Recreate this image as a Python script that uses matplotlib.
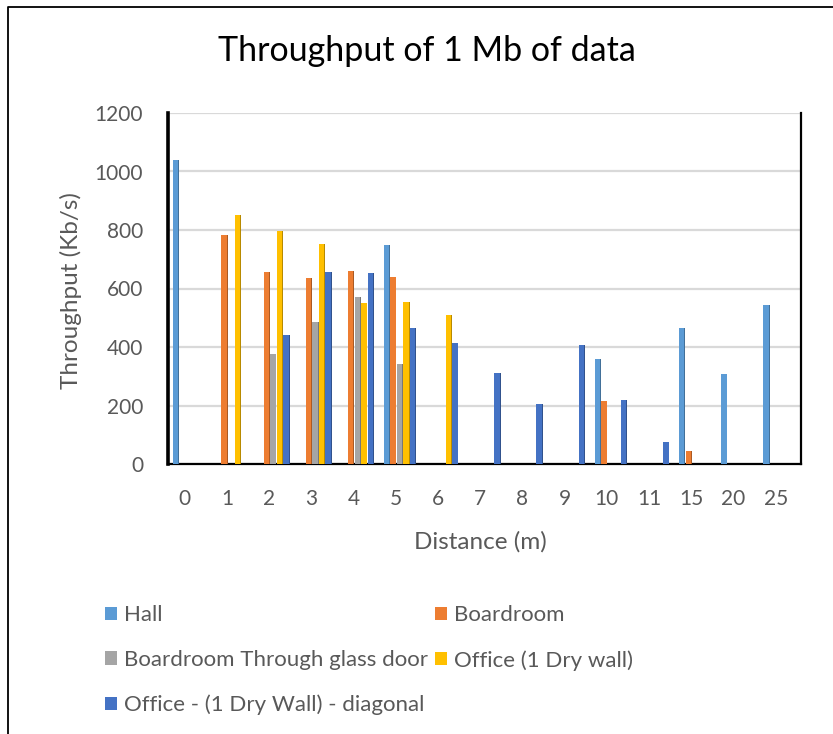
import matplotlib.pyplot as plt
from matplotlib.lines import Line2D
from matplotlib.patches import Patch
import matplotlib.colors as mcolors
import numpy as np

plt.rcParams['font.family'] = ['Lato', 'DejaVu Sans']

# data (0 = no bar)
distances = ['0', '1', '2', '3', '4', '5', '6', '7', '8', '9', '10', '11', '15', '20', '25']
hall = [1040, 0, 0, 0, 0, 749, 0, 0, 0, 0, 359, 0, 464, 308, 542]
boardroom = [0, 783, 655, 637, 660, 640, 0, 0, 0, 0, 214, 0, 43, 0, 0]
glass_door = [0, 0, 376, 484, 570, 342, 0, 0, 0, 0, 0, 0, 0, 0, 0]
office = [0, 851, 797, 751, 549, 554, 509, 0, 0, 0, 0, 0, 0, 0, 0]
office_diag = [0, 0, 440, 658, 654, 466, 412, 312, 206, 406, 220, 75, 0, 0, 0]

series_names = ['Hall', 'Boardroom', 'Boardroom Through glass door',
                'Office (1 Dry wall)', 'Office - (1 Dry Wall) - diagonal']
series_vals = [hall, boardroom, glass_door, office, office_diag]
colors = ['#5B9BD5', '#ED7D31', '#A5A5A5', '#FFC000', '#4472C4']

grey = '#595959'

fig = plt.figure(figsize=(8.33, 7.34), dpi=100)
ax = fig.add_axes([168 / 833, 1 - 464 / 734, 633 / 833, 351 / 734])

x = np.arange(len(distances))
step = 0.156
face_w = 0.13
side_w = 0.04
for j, (vals, c) in enumerate(zip(series_vals, colors)):
    v = np.array(vals, dtype=float)
    pos = x + (j - 2) * step
    dark = tuple(np.array(mcolors.to_rgb(c)) * 0.72)
    ax.bar(pos + face_w / 2 - side_w / 2 + 0.005, v, width=side_w, color=dark,
           zorder=3 + j * 0.1, linewidth=0)
    ax.bar(pos - side_w / 2 + 0.005, v, width=face_w, color=c,
           zorder=3.05 + j * 0.1, linewidth=0)

ax.set_xlim(-0.5, len(distances) - 0.5)
ax.set_ylim(0, 1200)
ax.set_yticks(np.arange(0, 1201, 200))
ax.set_xticks(x - 0.1)
ax.set_xticklabels(distances)
ax.tick_params(axis='both', length=0, labelsize=15, labelcolor=grey)
ax.tick_params(axis='y', pad=18)
ax.tick_params(axis='x', pad=18)
ax.yaxis.grid(True, color='#D9D9D9', linewidth=1.6, zorder=0)
ax.set_axisbelow(True)

ax.spines['top'].set_visible(False)
ax.spines['left'].set_linewidth(2.6)
ax.spines['bottom'].set_linewidth(1.6)
ax.spines['right'].set_linewidth(1.6)
for s in ['left', 'bottom', 'right']:
    ax.spines[s].set_color('black')

ax.set_xlabel('Distance (m)', fontsize=17.5, color=grey)
ax.set_ylabel('Throughput (Kb/s)', fontsize=17.5, color=grey)
ax.xaxis.set_label_coords(0.493, -0.19)
ax.yaxis.set_label_coords(-0.136, 0.493)
fig.text(427 / 833, 1 - 51 / 734, 'Throughput of 1 Mb of data', fontsize=24.5,
         ha='center', va='center', color='black')

# legend, row-major order like the original
handles = [Patch(facecolor=c, edgecolor='none') for c in colors]
order = [0, 2, 4, 1, 3]
fig.legend([handles[i] for i in order], [series_names[i] for i in order],
           ncol=2, loc='upper left', bbox_to_anchor=(94 / 833, 1 - 594 / 734),
           frameon=False, fontsize=16, labelcolor=grey, handlelength=0.55,
           handleheight=0.55, handletextpad=0.3, columnspacing=0.3,
           labelspacing=1.12, borderpad=0)

# chart border (only left and top edges are inside the picture)
fig.add_artist(Line2D([8 / 833, 8 / 833, 1.0], [0.0, 1 - 7 / 734, 1 - 7 / 734],
                      transform=fig.transFigure, color='black', linewidth=1.3))

fig.savefig('out.png', dpi=100)
